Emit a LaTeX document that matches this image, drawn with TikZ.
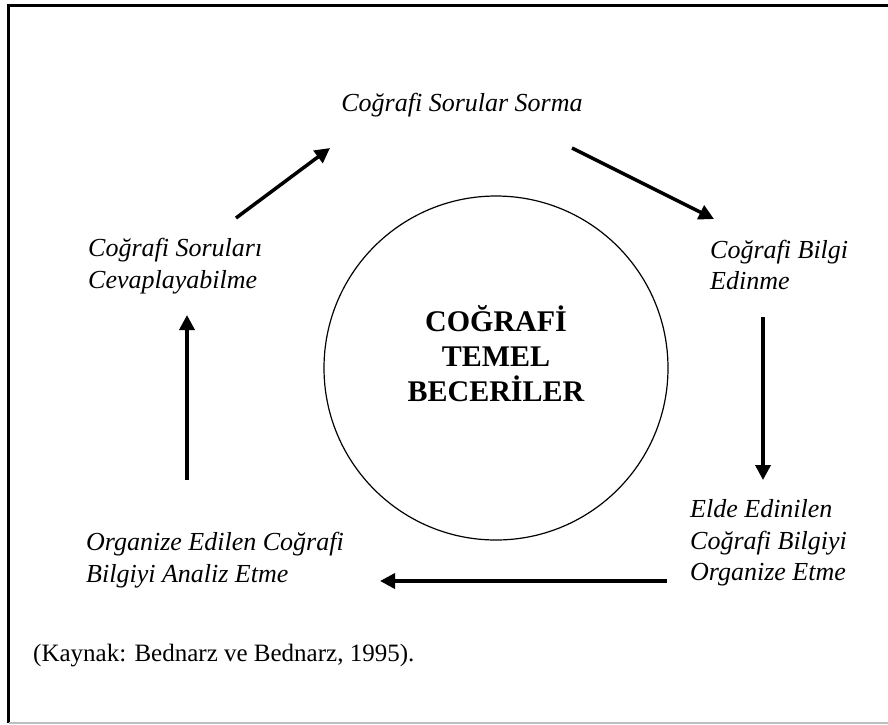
\documentclass[tikz,border=0pt]{standalone}
\usepackage{fontspec}
\setmainfont{Liberation Serif}
\usetikzlibrary{arrows.meta}

\tikzset{
  steptext/.style={font=\itshape\fontsize{26}{31.5}\selectfont, align=left, inner sep=0pt},
  flow/.style={line width=3.5pt, -{Triangle[length=15pt,width=15pt]}},
}

\begin{document}
\begin{tikzpicture}[x=1pt,y=-1pt]
\useasboundingbox (0,0) rectangle (888,724);
\draw[line width=2.5pt] (8.7,723) -- (8.7,5.5) -- (888,5.5);
\draw[gray!50, line width=1.5pt] (8.7,723) -- (888,723);

\node[draw, circle, minimum size=344pt, line width=1.2pt] (core) at (496,368) {};
\node[font=\bfseries\fontsize{30}{35}\selectfont, align=center, inner sep=0pt] (title) at (496,354) {COĞRAFİ\\TEMEL\\BECERİLER};

\node[steptext, anchor=base] (ask) at (462,111) {Coğrafi Sorular Sorma};
\node[steptext, anchor=west] (gather) at (710,265) {Coğrafi Bilgi\\Edinme};
\node[steptext, anchor=west] (order) at (690,543) {Elde Edinilen\\Coğrafi Bilgiyi\\Organize Etme};
\node[steptext, anchor=west] (analyse) at (86,560) {Organize Edilen Coğrafi\\Bilgiyi Analiz Etme};
\node[steptext, anchor=west] (answer) at (88,266) {Coğrafi Soruları\\Cevaplayabilme};

\node[font=\fontsize{25}{30}\selectfont, anchor=base west, inner sep=0pt] (source) at (33,661) {(Kaynak: Bednarz ve Bednarz, 1995).};

% arrow ends
\coordinate (p1) at (236,218); \coordinate (p2) at (330,148);
\coordinate (p3) at (572,148); \coordinate (p4) at (714,219);
\coordinate (p5) at (763,317); \coordinate (p6) at (763,480);
\coordinate (p7) at (667,581); \coordinate (p8) at (380,581);
\coordinate (p9) at (187,480); \coordinate (p10) at (187,315);

\draw[flow] (p1) -- (p2);
\draw[flow] (p3) -- (p4);
\draw[flow] (p5) -- (p6);
\draw[flow] (p7) -- (p8);
\draw[flow] (p9) -- (p10);

\end{tikzpicture}
\end{document}
